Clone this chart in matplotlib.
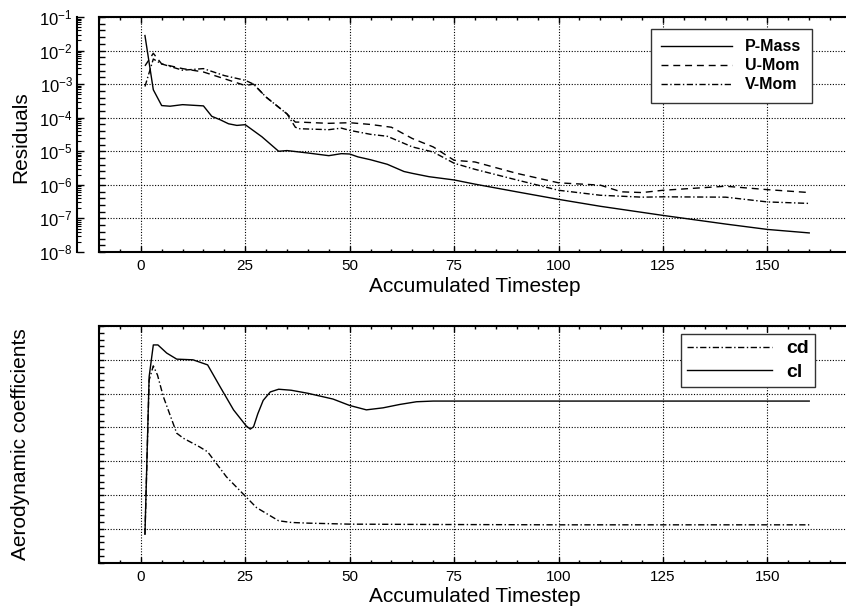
import numpy as np
import matplotlib.pyplot as plt
from matplotlib.ticker import MultipleLocator, LogLocator, NullFormatter, NullLocator

plt.rcParams['font.family'] = ['Liberation Sans', 'DejaVu Sans']

# residual history
x_pmass = [1, 3, 5, 7, 10, 15, 17, 19, 21, 23, 25, 29, 33, 35, 40, 45, 48, 50, 52, 55,
           59, 63, 65, 69, 75, 80, 90, 100, 110, 125, 140, 150, 160]
pmass = [2.8e-2, 6.8e-4, 2.3e-4, 2.2e-4, 2.45e-4, 2.25e-4, 1.1e-4, 8.7e-5, 6.6e-5, 5.9e-5,
         6.2e-5, 2.7e-5, 1.0e-5, 1.05e-5, 8.9e-6, 7.4e-6, 8.5e-6, 8.3e-6, 6.8e-6, 5.6e-6,
         4.1e-6, 2.5e-6, 2.2e-6, 1.75e-6, 1.4e-6, 1.05e-6, 6.2e-7, 3.7e-7, 2.3e-7, 1.23e-7,
         6.8e-8, 4.7e-8, 3.7e-8]

x_umom = [1, 3, 5, 10, 15, 20, 25, 27, 30, 35, 37, 38, 45, 50, 55, 60, 65, 70, 75, 80,
          90, 100, 110, 115, 120, 125, 140, 150, 160]
umom = [3.5e-3, 8.3e-3, 4.0e-3, 2.9e-3, 2.3e-3, 1.45e-3, 9.1e-4, 1.0e-3, 4.1e-4, 1.3e-4,
        7.4e-5, 7.4e-5, 6.8e-5, 7.1e-5, 6.3e-5, 5.2e-5, 2.4e-5, 1.35e-5, 5.4e-6, 4.8e-6,
        2.2e-6, 1.15e-6, 9.8e-7, 6.2e-7, 5.9e-7, 6.9e-7, 9.1e-7, 7.2e-7, 5.9e-7]

x_vmom = [1, 3, 5, 10, 15, 20, 25, 27, 30, 35, 37, 38, 45, 48, 50, 55, 59, 65, 70, 75,
          80, 90, 100, 110, 120, 125, 140, 150, 160]
vmom = [8.5e-4, 5.6e-3, 4.0e-3, 2.6e-3, 2.9e-3, 1.8e-3, 1.3e-3, 1.0e-3, 4.1e-4, 1.3e-4,
        5.2e-5, 4.7e-5, 4.4e-5, 4.9e-5, 4.2e-5, 3.2e-5, 2.8e-5, 1.35e-5, 9.5e-6, 4.4e-6,
        2.9e-6, 1.4e-6, 6.9e-7, 4.9e-7, 4.3e-7, 4.4e-7, 4.3e-7, 3.1e-7, 2.8e-7]

# aerodynamic coefficients (arbitrary units, no labels in the original)
x_cl = [1, 2, 3, 4.1, 6.2, 8.6, 12.5, 16, 19, 22.2, 25.2, 26.2, 27, 28, 29.3, 31, 33,
        36, 40, 46, 50, 54, 58, 62, 66, 70, 160]
cl = [0.84, 5.5, 6.44, 6.44, 6.2, 6.02, 6.0, 5.85, 5.2, 4.52, 4.05, 3.95, 4.02, 4.4, 4.8,
      5.05, 5.13, 5.1, 5.01, 4.84, 4.65, 4.52, 4.58, 4.68, 4.76, 4.78, 4.78]

x_cd = [1, 2, 3, 4, 5.4, 7, 8.6, 10.2, 14, 16, 20.5, 25, 27.7, 30, 33, 36, 40, 50, 70, 100, 160]
cd = [0.84, 5.4, 5.82, 5.55, 4.91, 4.37, 3.83, 3.68, 3.43, 3.28, 2.54, 1.97, 1.63, 1.46,
      1.24, 1.19, 1.17, 1.14, 1.13, 1.12, 1.12]

DASH = (0, (5, 3.5))
DASHDOT = (0, (4.5, 1.8, 1, 1.8))
GRID = dict(color='black', linestyle=(0, (1, 1.5)), linewidth=0.8)

fig = plt.figure(figsize=(8.46, 6.07), dpi=100)
W, H = 846, 607


def box_axes(top, bottom, left=99, right=851):
    return fig.add_axes([left / W, 1 - bottom / H, (right - left) / W, (bottom - top) / H])


def style_box(ax, labelpad):
    for s in ax.spines.values():
        s.set_linewidth(1.5)
    ax.set_xlim(-10, 170)
    ax.xaxis.set_major_locator(MultipleLocator(25))
    ax.xaxis.set_minor_locator(MultipleLocator(5))
    ax.tick_params(which='both', direction='in', top=True, right=False, width=1)
    ax.tick_params(which='major', length=4, labelsize=11, pad=5)
    ax.tick_params(which='minor', length=2.5)
    ax.grid(True, which='major', **GRID)
    ax.set_xlabel('Accumulated Timestep', fontsize=15, labelpad=labelpad)


# ---- residuals ----
ax1 = box_axes(17, 252)
ax1.set_yscale('log')
ax1.set_ylim(1e-8, 1e-1)
style_box(ax1, 3)
ax1.plot(x_pmass, pmass, color='black', lw=1.0, label='P-Mass')
ax1.plot(x_umom, umom, color='black', lw=1.0, linestyle=DASH, label='U-Mom')
ax1.plot(x_vmom, vmom, color='black', lw=1.0, linestyle=DASHDOT, label='V-Mom')
ax1.yaxis.set_major_locator(LogLocator(base=10, numticks=20))
ax1.yaxis.set_minor_locator(LogLocator(base=10, subs=[10 ** 0.2, 10 ** 0.4, 10 ** 0.6, 10 ** 0.8], numticks=20))
ax1.yaxis.set_major_formatter(NullFormatter())
ax1.yaxis.set_minor_formatter(NullFormatter())
ax1.tick_params(axis='y', which='both', length=4)
leg1 = ax1.legend(loc='upper left', bbox_to_anchor=((651 - 99) / 752, (252 - 29) / 235),
                  frameon=True, fancybox=False, edgecolor='#333333', framealpha=1,
                  prop={'weight': 'bold', 'size': 11.5}, handlelength=4.45,
                  borderpad=0.65, labelspacing=0.25, handletextpad=0.8, borderaxespad=0)
leg1.get_frame().set_linewidth(1.0)

# detached log axis to the left of the box
axy = box_axes(17, 252, left=77, right=78)
axy.patch.set_visible(False)
for k in ('top', 'right', 'bottom'):
    axy.spines[k].set_visible(False)
axy.spines['left'].set_linewidth(1.5)
axy.set_yscale('log')
axy.set_ylim(1e-8, 1e-1)
axy.xaxis.set_major_locator(NullLocator())
axy.yaxis.set_major_locator(LogLocator(base=10, numticks=20))
axy.yaxis.set_minor_locator(LogLocator(base=10, subs=np.arange(2, 10), numticks=20))
axy.yaxis.set_minor_formatter(NullFormatter())
axy.tick_params(axis='y', which='major', direction='in', length=5, width=1, labelsize=12, pad=3)
axy.tick_params(axis='y', which='minor', direction='in', length=3, width=0.8)
fig.text(21 / W, 1 - 137 / H, 'Residuals', rotation=90, ha='center', va='center', fontsize=15)

# ---- aerodynamic coefficients ----
ax2 = box_axes(326, 562.7)
ax2.set_ylim(0, 7)
style_box(ax2, 2.5)
ax2.plot(x_cd, cd, color='black', lw=1.0, linestyle=DASHDOT, label='cd')
ax2.plot(x_cl, cl, color='black', lw=1.0, label='cl')
ax2.yaxis.set_major_locator(MultipleLocator(1))
ax2.yaxis.set_minor_locator(MultipleLocator(0.2))
ax2.yaxis.set_major_formatter(NullFormatter())
ax2.tick_params(axis='y', which='both', length=3.5)
fig.text(21 / W, 1 - 444 / H, 'Aerodynamic coefficients', rotation=90, ha='center', va='center', fontsize=15)
leg2 = ax2.legend(loc='upper left', bbox_to_anchor=((681 - 99) / 752, (562.7 - 334) / 236.7),
                  frameon=True, fancybox=False, edgecolor='#333333', framealpha=1,
                  prop={'weight': 'bold', 'size': 14}, handlelength=4.4,
                  borderpad=0.3, labelspacing=0.3, handletextpad=0.7, borderaxespad=0)
leg2.get_frame().set_linewidth(1.0)

fig.savefig('out.png', dpi=100)
